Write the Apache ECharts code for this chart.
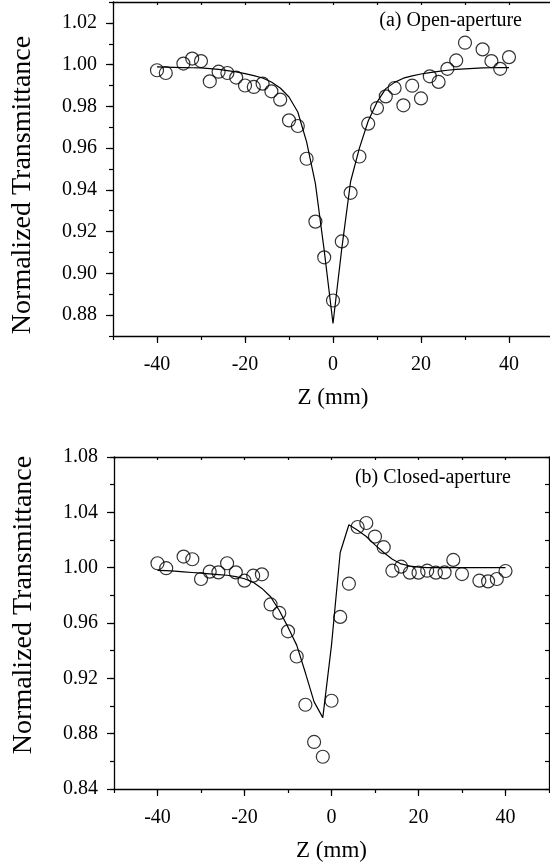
<!DOCTYPE html>
<html>
<head>
<meta charset="utf-8">
<script src="https://cdn.jsdelivr.net/npm/echarts@6/dist/echarts.min.js"></script>
<style>
  html, body { margin: 0; padding: 0; background: #fff; }
  #chart { width: 550px; height: 867px; }
</style>
</head>
<body>
<div id="chart"></div>
<script>
// z positions (mm) of measured points
const openZ = [-40, -38, -34, -32, -30, -28, -26, -24, -22, -20, -18, -16, -14, -12, -10, -8, -6, -4, -2, 0, 2, 4, 6, 8, 10, 12, 14, 16, 18, 20, 22, 24, 26, 28, 30, 34, 36, 38, 40];
const openT = [0.9973, 0.996, 1.0005, 1.0029, 1.0017, 0.992, 0.9966, 0.996, 0.9938, 0.990, 0.9893, 0.9909, 0.9872, 0.9832, 0.9733, 0.9706, 0.9549, 0.9248, 0.9077, 0.887, 0.9153, 0.9386, 0.956, 0.9717, 0.9792, 0.9848, 0.9888, 0.9805, 0.9899, 0.9838, 0.9944, 0.9917, 0.998, 1.002, 1.0105, 1.0073, 1.0017, 0.998, 1.0036];

const closedZ = [-40, -38, -34, -32, -30, -28, -26, -24, -22, -20, -18, -16, -14, -12, -10, -8, -6, -4, -2, 0, 2, 4, 6, 8, 10, 12, 14, 16, 18, 20, 22, 24, 26, 28, 30, 34, 36, 38, 40];
const closedT = [1.0032, 0.9996, 1.008, 1.0061, 0.9918, 0.9971, 0.9966, 1.0032, 0.9966, 0.9906, 0.9942, 0.9952, 0.9734, 0.9673, 0.954, 0.9358, 0.9009, 0.874, 0.8633, 0.9038, 0.9644, 0.9884, 1.0294, 1.0323, 1.0225, 1.0148, 0.9978, 1.0007, 0.9964, 0.9964, 0.9978, 0.9964, 0.9966, 1.0056, 0.9954, 0.9906, 0.9901, 0.9918, 0.9976];

// fitted curves, every 2 mm
const fitZ = [-40, -38, -36, -34, -32, -30, -28, -26, -24, -22, -20, -18, -16, -14, -12, -10, -8, -6, -4, -2, 0, 2, 4, 6, 8, 10, 12, 14, 16, 18, 20, 22, 24, 26, 28, 30, 32, 34, 36, 38, 40];
const openFit = [0.9989, 0.9988, 0.9987, 0.9986, 0.9985, 0.9984, 0.9981, 0.9977, 0.9971, 0.9965, 0.9957, 0.9947, 0.9936, 0.9917, 0.9888, 0.9845, 0.9773, 0.963, 0.943, 0.911, 0.876, 0.912, 0.944, 0.960, 0.973, 0.982, 0.9885, 0.9915, 0.9935, 0.9946, 0.9955, 0.9962, 0.9968, 0.9973, 0.9977, 0.998, 0.9982, 0.9984, 0.9985, 0.9986, 0.9986];
const closedFit = [0.998, 0.9978, 0.9975, 0.997, 0.9965, 0.996, 0.9955, 0.995, 0.9945, 0.9935, 0.992, 0.9895, 0.985, 0.979, 0.969, 0.957, 0.944, 0.924, 0.903, 0.8916, 0.944, 1.011, 1.031, 1.027, 1.0225, 1.0165, 1.011, 1.0061, 1.0027, 1.0012, 1.0004, 1.0, 1.0, 1.0, 1.0, 1.0, 1.0, 1.0, 1.0, 1.0, 1.0];

const xTicks = [-40, -20, 0, 20, 40];
const yTicksOpen = [0.88, 0.90, 0.92, 0.94, 0.96, 0.98, 1.00, 1.02];
const yTicksClosed = [0.84, 0.88, 0.92, 0.96, 1.00, 1.04, 1.08];

const font = "Liberation Serif";
const black = "#000";

function zip(xs, ys) {
    return xs.map((x, i) => [x, ys[i]]);
}

function xAxes(grid) {
    return [
        {
            // minor ticks + axis line
            gridIndex: grid, type: "value", min: -50, max: 50, interval: 10, position: "bottom",
            axisLine: {onZero: false, lineStyle: {color: black, width: 1.3}},
            axisTick: {length: 4, lineStyle: {color: black, width: 1.2}},
            axisLabel: {show: false},
            splitLine: {show: false},
        },
        {
            gridIndex: grid, type: "value", min: -50, max: 50, position: "bottom",
            axisLine: {show: false, onZero: false},
            axisTick: {customValues: xTicks, length: 7, lineStyle: {color: black, width: 1.2}},
            axisLabel: {customValues: xTicks, margin: 19, color: black, fontFamily: font, fontSize: 20},
            splitLine: {show: false},
            name: "Z (mm)", nameLocation: "middle", nameGap: 50,
            nameTextStyle: {color: black, fontFamily: font, fontSize: 23},
        },
        {
            gridIndex: grid, type: "value", min: -50, max: 50, interval: 10, position: "top",
            axisLine: {onZero: false, lineStyle: {color: black, width: 1.3}},
            axisTick: {inside: true, length: 3, lineStyle: {color: black, width: 1.2}},
            axisLabel: {show: false},
            splitLine: {show: false},
        },
    ];
}

function yAxes(grid, min, max, minor, ticks, rightSide, namePad) {
    const axes = [
        {
            gridIndex: grid, type: "value", min: min, max: max, interval: minor, position: "left",
            axisLine: {show: true, onZero: false, lineStyle: {color: black, width: 1.3}},
            axisTick: {show: true, length: 4, lineStyle: {color: black, width: 1.2}},
            axisLabel: {show: false},
            splitLine: {show: false},
        },
        {
            gridIndex: grid, type: "value", min: min, max: max, position: "left",
            axisLine: {show: false, onZero: false},
            axisTick: {show: true, customValues: ticks, length: 7, lineStyle: {color: black, width: 1.2}},
            axisLabel: {
                customValues: ticks, margin: 16, color: black, fontFamily: font, fontSize: 20,
                formatter: (v) => v.toFixed(2),
            },
            splitLine: {show: false},
            name: "Normalized Transmittance", nameLocation: "middle", nameGap: 76,
            nameTextStyle: {color: black, fontFamily: font, fontSize: 28, padding: namePad},
        },
    ];
    if (rightSide) {
        axes.push({
            gridIndex: grid, type: "value", min: min, max: max, interval: minor, position: "right",
            axisLine: {show: true, onZero: false, lineStyle: {color: black, width: 1.3}},
            axisTick: {show: true, inside: true, length: 4, lineStyle: {color: black, width: 1.2}},
            axisLabel: {show: false},
            splitLine: {show: false},
        });
    }
    return axes;
}

function pointSeries(grid, data) {
    return {
        type: "scatter", xAxisIndex: grid * 3, yAxisIndex: grid === 0 ? 0 : 2,
        data: data, symbol: "circle", symbolSize: 13,
        itemStyle: {color: "rgba(0,0,0,0)", borderColor: black, borderWidth: 1.2},
        z: 3,
    };
}

function fitSeries(grid, data) {
    return {
        type: "line", xAxisIndex: grid * 3, yAxisIndex: grid === 0 ? 0 : 2,
        data: data, showSymbol: false, symbol: "none",
        lineStyle: {color: black, width: 1.2},
        z: 2,
    };
}

const chart = echarts.init(document.getElementById("chart"));
chart.setOption({
    animation: false,
    backgroundColor: "#fff",
    title: [
        {text: "(a) Open-aperture", right: 23, top: 6,
         textStyle: {fontFamily: font, fontSize: 20, fontWeight: "normal", color: black}},
        {text: "(b) Closed-aperture", right: 34, top: 463,
         textStyle: {fontFamily: font, fontSize: 20, fontWeight: "normal", color: black}},
    ],
    grid: [
        {left: 113, right: -3, top: 2, bottom: 531, outerBoundsMode: "none"},
        {left: 114, right: 1, top: 457, bottom: 78, outerBoundsMode: "none"},
    ],
    xAxis: [...xAxes(0), ...xAxes(1)],
    yAxis: [
        ...yAxes(0, 0.87, 1.03, 0.01, yTicksOpen, false, [0, 32, 0, 0]),
        ...yAxes(1, 0.84, 1.08, 0.02, yTicksClosed, true, [0, 0, 0, 36]),
    ],
    series: [
        fitSeries(0, zip(fitZ, openFit)),
        pointSeries(0, zip(openZ, openT)),
        fitSeries(1, zip(fitZ, closedFit)),
        pointSeries(1, zip(closedZ, closedT)),
    ],
});
</script>
</body>
</html>
